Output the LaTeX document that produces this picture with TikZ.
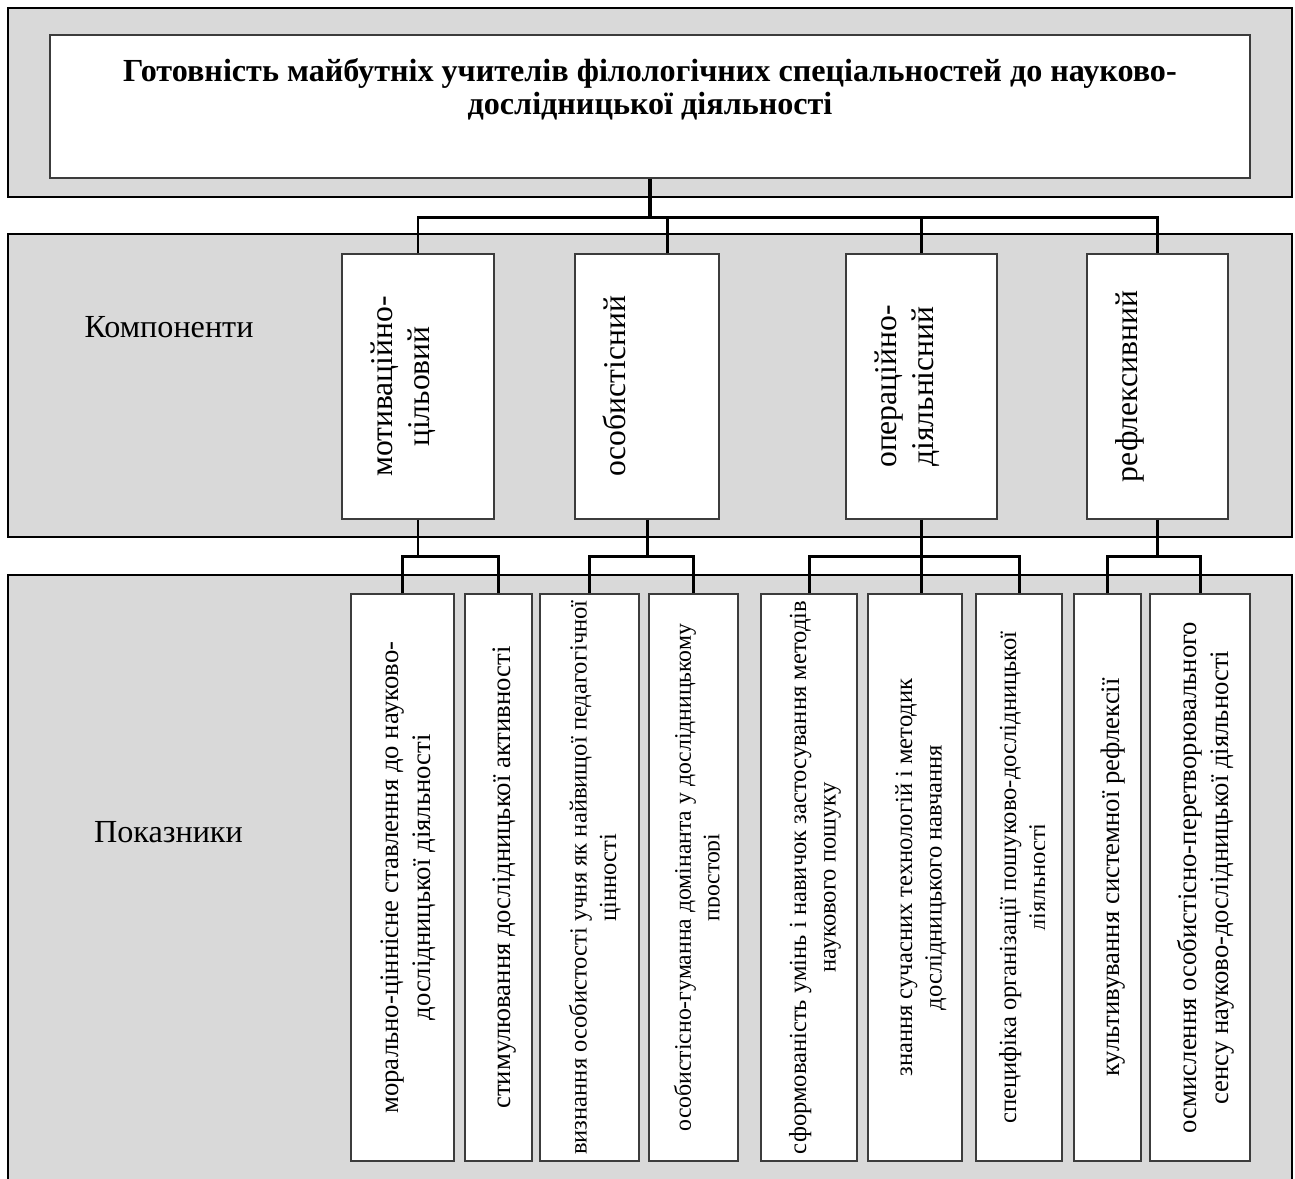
\documentclass[tikz,border=0pt]{standalone}
\usepackage{fontspec}
\setmainfont{Liberation Serif}
\usetikzlibrary{calc}

\definecolor{panelgray}{RGB}{217,217,217}
\definecolor{boxline}{RGB}{60,60,60}
\newcommand\ttlfont{\fontsize{18.3}{18.8}\selectfont\bfseries}
\newcommand\compfont{\fontsize{18}{21}\selectfont}
\newcommand\lblfont{\fontsize{18.3}{21}\selectfont}
\newcommand\indfont{\fontsize{15.2}{18.2}\selectfont}
\newcommand\indsmall{\fontsize{14}{16.8}\selectfont}

\tikzset{panel/.style={draw, line width=1.6pt, fill=panelgray}}
\tikzset{bx/.style={draw=boxline, line width=0.8pt, fill=white, rectangle, inner sep=0pt}}
\tikzset{ibox/.style={bx, minimum height=11.34cm}}
\tikzset{vtxt/.style={rotate=90, anchor=north, align=center, inner sep=0pt}}
\tikzset{itxt/.style={rotate=90, align=center, inner sep=0pt}}

\begin{document}
\begin{tikzpicture}[x=0.02cm, y=-0.02cm]
\tikzstyle{conn}=[line width=1.7pt]
\tikzstyle{trunk}=[line width=2.6pt]
\clip (0,0) rectangle (1295,1178);
\draw[panel] (8,8) rectangle (1292,197);
\draw[panel] (8,234) rectangle (1292,537);
\draw[panel] (8,575) rectangle (1292,1210);

\node[bx, minimum width=24cm, minimum height=2.86cm] (ttl) at (650,106.5) {};
\node[anchor=north, align=center, inner sep=0pt, font=\ttlfont] (ttltxt) at (650,58) {\strut Готовність майбутніх учителів філологічних спеціальностей до науково-\\дослідницької діяльності};

\node[anchor=base, font=\lblfont] (komp) at (169,337) {Компоненти};
\node[anchor=base, font=\lblfont] (pokaz) at (168.5,842) {Показники};

\node[bx, minimum width=3.04cm, minimum height=5.3cm] (c1) at (418,386.5) {};
\node[bx, minimum width=2.88cm, minimum height=5.3cm] (c2) at (647,386.5) {};
\node[bx, minimum width=3.02cm, minimum height=5.3cm] (c3) at (921.5,386.5) {};
\node[bx, minimum width=2.82cm, minimum height=5.3cm] (c4) at (1157.5,386.5) {};
\node[vtxt, font=\compfont] (c1t) at ([xshift=0.5cm]c1.west) {\strut мотиваційно-\\цільовий};
\node[vtxt, font=\compfont] (c2t) at ([xshift=0.5cm]c2.west) {\strut особистісний};
\node[vtxt, font=\compfont] (c3t) at ([xshift=0.5cm]c3.west) {\strut операційно-\\діяльнісний};
\node[vtxt, font=\compfont] (c4t) at ([xshift=0.5cm]c4.west) {\strut рефлексивний};

\node[ibox, minimum width=2.06cm] (i1) at (402.5,877.5) {};
\node[ibox, minimum width=1.34cm] (i2) at (498.5,877.5) {};
\node[ibox, minimum width=1.98cm] (i3) at (589.5,877.5) {};
\node[ibox, minimum width=1.78cm] (i4) at (693.5,877.5) {};
\node[ibox, minimum width=1.92cm] (i5) at (809,877.5) {};
\node[ibox, minimum width=1.88cm] (i6) at (915,877.5) {};
\node[ibox, minimum width=1.72cm] (i7) at (1019,877.5) {};
\node[ibox, minimum width=1.34cm] (i8) at (1107.5,877.5) {};
\node[ibox, minimum width=2.0cm] (i9) at (1200,877.5) {};

\node[itxt, font=\indfont] (i1t) at ([xshift=0.12cm]i1.center) {\strut морально-ціннісне ставлення до науково-\\\strut дослідницької діяльності};
\node[itxt, font=\indfont] (i2t) at ([xshift=0.12cm]i2.center) {\strut стимулювання дослідницької активності};
\node[itxt, font=\indsmall] (i3t) at ([xshift=0.12cm]i3.center) {\strut визнання особистості учня як найвищої педагогічної\\\strut цінності};
\begin{scope}
\clip (i4.north west) rectangle ([xshift=-0.39cm]i4.south east);
\node[itxt, font=\fontsize{13.5}{16.2}\selectfont] (i4t) at ([xshift=0.12cm]i4.center) {\strut особистісно-гуманна домінанта у дослідницькому\\\strut просторі};
\end{scope}
\node[itxt, font=\indsmall] (i5t) at ([xshift=0.12cm]i5.center) {\strut сформованість умінь і навичок застосування методів\\\strut наукового пошуку};
\node[itxt, font=\indsmall] (i6t) at ([xshift=0.12cm]i6.center) {\strut знання сучасних технологій і методик\\\strut дослідницького навчання};
\begin{scope}
\clip (i7.north west) rectangle ([xshift=-0.37cm]i7.south east);
\node[itxt, font=\indsmall] (i7t) at ([xshift=0.12cm]i7.center) {\strut специфіка організації пошуково-дослідницької\\\strut діяльності};
\end{scope}
\node[itxt, font=\indfont] (i8t) at ([xshift=0.12cm]i8.center) {\strut культивування системної рефлексії};
\node[itxt, font=\indfont] (i9t) at ([xshift=0.12cm]i9.center) {\strut осмислення особистісно-перетворювального\\\strut сенсу науково-дослідницької діяльності};

\coordinate (lvl1) at (0,217);
\coordinate (lvl2) at (0,556);
\coordinate (c2top) at ($(c2.north)+(20,0)$);
\draw[trunk] (ttl.south) -- (ttl.south |- lvl1);
\draw[conn] (c1.north) |- (c4.north |- lvl1) -- (c4.north);
\draw[conn] (c2top) -- (c2top |- lvl1);
\draw[conn] (c3.north) -- (c3.north |- lvl1);

\draw[conn] (c1.south) -- (c1.south |- lvl2);
\draw[conn] (i1.north) |- (i2.north |- lvl2) -- (i2.north);
\draw[conn] (c2.south) -- (c2.south |- lvl2);
\draw[conn] (i3.north) |- (i4.north |- lvl2) -- (i4.north);
\draw[conn] (c3.south) -- (c3.south |- i6.north);
\draw[conn] (i5.north) |- (i7.north |- lvl2) -- (i7.north);
\draw[conn] (c4.south) -- (c4.south |- lvl2);
\draw[conn] (i8.north) |- (i9.north |- lvl2) -- (i9.north);
\end{tikzpicture}
\end{document}
